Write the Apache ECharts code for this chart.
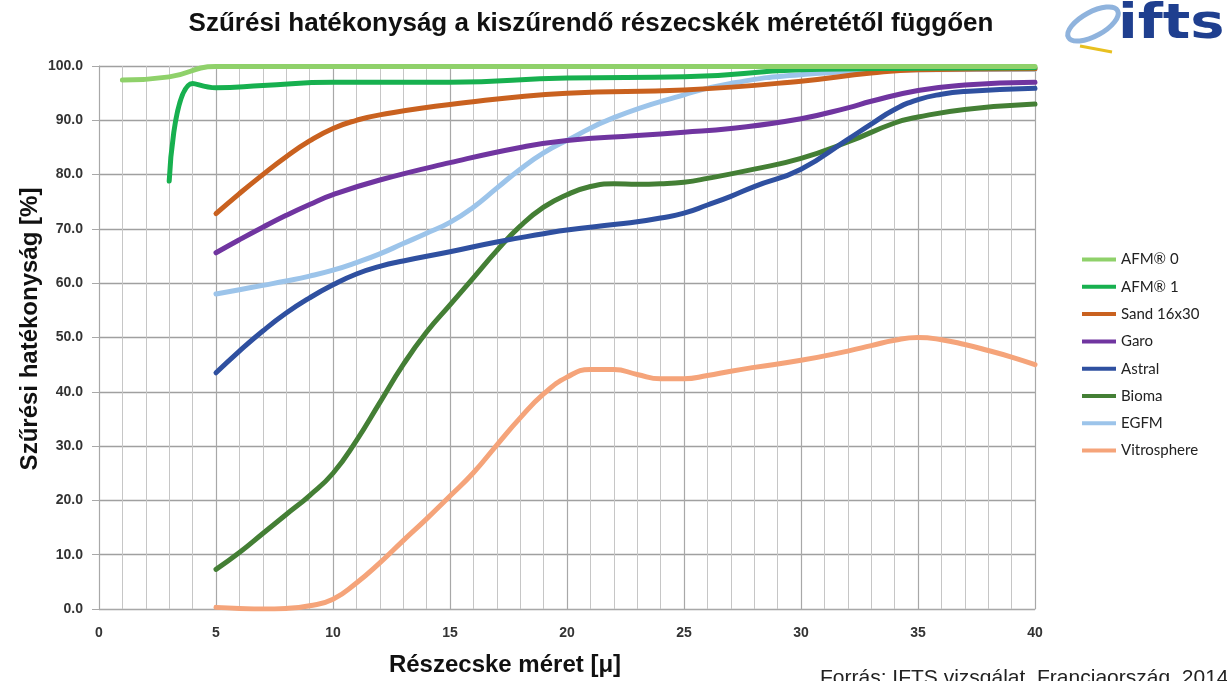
<!DOCTYPE html>
<html>
<head>
<meta charset="utf-8">
<script src="https://cdn.jsdelivr.net/npm/echarts@6/dist/echarts.min.js"></script>
<style>html,body{margin:0;padding:0;background:#fff;overflow:hidden;}#c{width:1227px;height:681px;}</style>
</head>
<body>
<div id="c"></div>
<script>
var seriesNames = ['AFM® 0','AFM® 1','Sand 16x30','Garo','Astral','Bioma','EGFM','Vitrosphere'];
var colors = ['#8fd16a','#17b04f','#c9611f','#7035a0','#2f50a0','#447f35','#9cc4ea','#f5a47a'];
var afm0 = [[1,97.4],[3,98.0],[5,99.9],[10,99.9],[15,99.9],[20,99.9],[25,99.9],[30,99.9],[35,99.9],[40,99.9]];
var afm1 = [[3,78.8],[4,96.8],[5,96.0],[7,96.4],[10,97.0],[15,97.0],[20,97.8],[25,98.0],[30,99.3],[35,99.6],[40,99.7]];
var sand = [[5,72.8],[6,76.5],[7,80.0],[8,83.3],[9,86.2],[10,88.5],[11,90.0],[12,91.0],[15,92.9],[20,95.0],[25,95.6],[30,97.2],[33,98.7],[35,99.3],[40,99.5]];
var garo = [[5,65.6],[6,68.0],[7,70.3],[8,72.5],[9,74.5],[10,76.3],[12,79.0],[15,82.2],[18,85.0],[20,86.3],[23,87.2],[25,87.8],[27,88.5],[30,90.3],[32,92.3],[33,93.5],[35,95.5],[37,96.5],[40,97.0]];
var astral = [[5,43.5],[6,47.5],[7,51.2],[8,54.5],[9,57.3],[10,59.7],[11,61.7],[12,63.1],[13,64.1],[15,65.8],[17,67.6],[19,69.1],[20,69.8],[22,70.8],[23,71.3],[24,72.0],[25,72.9],[26,74.4],[27,76.0],[28,77.8],[30,81.0],[32,86.5],[33,89.3],[34,92.0],[35,93.8],[36,94.8],[37,95.3],[40,95.9]];
var bioma = [[5,7.3],[6,10.4],[7,13.9],[8,17.4],[9,20.9],[10,25.0],[11,31.0],[12,38.0],[13,45.0],[14,51.0],[15,56.0],[16,61.0],[17,66.0],[18,70.5],[19,74.0],[20,76.3],[21,77.8],[22,78.3],[23,78.2],[24,78.3],[25,78.6],[26,79.3],[28,81.0],[30,83.0],[32,86.0],[34,89.5],[35,90.6],[37,92.0],[40,93.0]];
var egfm = [[5,58.0],[6,58.8],[7,59.6],[8,60.4],[9,61.3],[10,62.4],[11,63.8],[12,65.4],[13,67.3],[14,69.2],[15,71.2],[16,74.0],[17,77.5],[18,81.0],[19,84.0],[20,86.3],[22,90.5],[25,94.7],[27,96.8],[30,98.4],[35,99.3],[40,99.4]];
var vitro = [[5,0.3],[6,0.1],[7,0.0],[8,0.1],[9,0.6],[10,1.8],[11,4.8],[12,8.5],[13,12.6],[14,16.6],[15,20.8],[16,25.1],[17,30.2],[18,35.2],[19,39.6],[20,42.7],[21,44.1],[22,44.1],[23,43.2],[24,42.4],[25,42.4],[26,43.0],[27,43.8],[28,44.5],[30,45.8],[32,47.5],[33,48.5],[34,49.5],[35,50.0],[36,49.6],[37,48.7],[38,47.6],[39,46.4],[40,45.0]];
var allData = [afm0, afm1, sand, garo, astral, bioma, egfm, vitro];

var chart = echarts.init(document.getElementById('c'), null, {renderer:'canvas'});
var series = seriesNames.map(function(n,i){
  return {
    name:n, type:'line', data:allData[i], smooth:0.5, showSymbol:false, symbol:'none',
    lineStyle:{width:5, color:colors[i], cap:'round', join:'round'},
    itemStyle:{color:colors[i]}, z: 10 - i
  };
});
chart.setOption({
  animation:false,
  backgroundColor:'#fff',
  title:{
    text:'Szűrési hatékonyság a kiszűrendő részecskék méretétől függően',
    left:586, textAlign:'center', top:6,
    textStyle:{fontFamily:'Liberation Sans, Arial', fontSize:26, fontWeight:'bold', color:'#111'}
  },
  legend:{
    orient:'vertical', left:1077, top:247, itemWidth:34, itemHeight:4, itemGap:12.3,
    icon:'rect',
    data:seriesNames.map(function(n,i){return {name:n, icon:'rect', itemStyle:{color:colors[i]}};}),
    textStyle:{fontFamily:'Lato, Open Sans', fontSize:15, color:'#222', padding:[0,0,0,0]}
  },
  grid:{left:99, right:192, top:66, bottom:72, containLabel:false},
  xAxis:{
    type:'value', min:0, max:40, interval:5,
    axisLine:{show:true, lineStyle:{color:'#a8a8a8', width:1}},
    axisTick:{show:false},
    axisLabel:{margin:17, fontFamily:'Liberation Sans, Arial', fontSize:14, fontWeight:'bold', color:'#333'},
    splitLine:{show:true, lineStyle:{color:'#a8a8a8', width:1.2}},
    minorTick:{show:false, splitNumber:5},
    minorSplitLine:{show:true, lineStyle:{color:'#c6c6c6', width:1}}
  },
  yAxis:{
    type:'value', min:0, max:100, interval:10,
    axisLine:{show:true, lineStyle:{color:'#a8a8a8', width:1}},
    axisTick:{show:true, length:7, lineStyle:{color:'#a8a8a8'}},
    axisLabel:{margin:16, formatter:function(v){return v.toFixed(1);}, fontFamily:'Liberation Sans, Arial', fontSize:14, fontWeight:'bold', color:'#333'},
    splitLine:{show:true, lineStyle:{color:'#a0a0a0', width:1.3}}
  },
  graphic:[
    {type:'text', x:30, y:329, rotation:Math.PI/2, style:{text:'Szűrési hatékonyság [%]', align:'center', verticalAlign:'middle', font:'bold 24px "Liberation Sans", Arial', fill:'#111'}},
    {type:'text', x:505, y:665, style:{text:'Részecske méret [μ]', align:'center', verticalAlign:'middle', font:'bold 24px "Liberation Sans", Arial', fill:'#111'}},
    {type:'text', x:820, y:668, style:{text:'Forrás: IFTS vizsgálat, Franciaország, 2014', align:'left', verticalAlign:'top', font:'21px "Liberation Sans", Arial', fill:'#222'}},
    {type:'ellipse', shape:{cx:1093, cy:24, rx:28, ry:12}, rotation:0.5, originX:1093, originY:24, style:{fill:'none', stroke:'#8fb3dd', lineWidth:5}},
    {type:'line', shape:{x1:1080, y1:46, x2:1112, y2:52}, style:{stroke:'#e8c020', lineWidth:3}},
    {type:'text', x:1118, y:2, scaleX:1.2, originX:0, originY:0, style:{text:'ifts', font:'bold 48px "DejaVu Sans", Arial', fill:'#1f3f8f'}}
  ],
  series:series
});
</script>
</body>
</html>
